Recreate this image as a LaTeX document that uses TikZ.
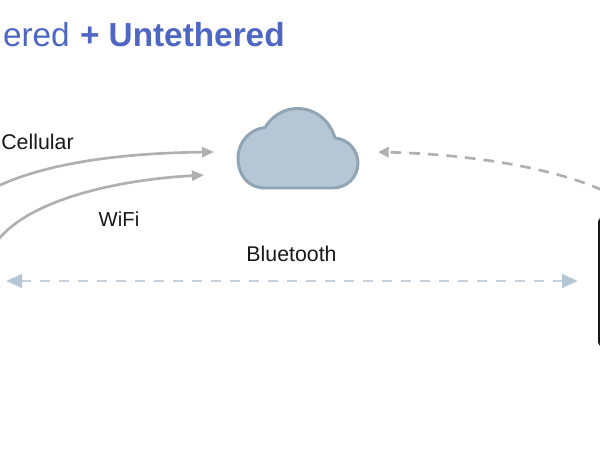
\documentclass[tikz,border=0pt]{standalone}
\usepackage{fontspec}
\setmainfont{Liberation Sans}
\usetikzlibrary{arrows.meta}
\definecolor{titleblue}{HTML}{4F67C4}
\definecolor{cloudfill}{HTML}{B5C6D4}
\definecolor{cloudedge}{HTML}{8FA5B6}
\definecolor{linkgrey}{HTML}{B0B0B0}
\definecolor{btdash}{HTML}{C6D1DB}
\definecolor{bthead}{HTML}{B5C6D4}
\tikzset{
  every node/.style={inner sep=0pt,outer sep=0pt},
  lbl/.style={font=\fontsize{16pt}{18pt}\selectfont,text=black!90},
  ttl/.style={font=\fontsize{25pt}{28pt}\selectfont,text=titleblue,anchor=base west},
  solidlink/.style={draw=linkgrey,line width=2pt,-{Triangle[length=9pt,width=7.5pt,color=linkgrey,fill=linkgrey]}},
  dashlink/.style={draw=linkgrey,line width=2pt,dash pattern=on 8pt off 6pt,-{Triangle[length=8pt,width=7.5pt,color=linkgrey,fill=linkgrey]}},
  btlink/.style={draw=btdash,line width=2.2pt,dash pattern=on 7pt off 7.25pt,{Triangle[length=12pt,width=10pt,color=bthead,fill=bthead]}-{Triangle[length=12pt,width=10pt,color=bthead,fill=bthead]}},
}
\begin{document}
\begin{tikzpicture}[x=0.75pt,y=-0.75pt]
\useasboundingbox (0,0) rectangle (600,468);
\fill[white] (0,0) rectangle (600,468);
\node[ttl] (t1) at (3,46.5) {ered};
\node[ttl,font=\fontsize{25pt}{28pt}\selectfont\bfseries] (t2) at (80,46.5) {+ Untethered};
\node[lbl] (cell) at (37.5,142) {Cellular};
\node[lbl,font=\fontsize{15.2pt}{18pt}\selectfont] (wifi) at (119,219) {WiFi};
\node[lbl] (bt) at (291.5,254) {Bluetooth};
% cloud
\draw[fill=cloudfill,draw=cloudedge,line width=2.2pt,line join=round]
  (265,188) .. controls (248,188) and (238,175) .. (238,158)
  .. controls (238,142) and (250,129) .. (265,127.5)
  .. controls (272,116) and (284,108.5) .. (297,108.5)
  .. controls (316,108.5) and (330,121) .. (335,138)
  .. controls (348,139) and (358,150) .. (358,163)
  .. controls (358,177) and (347,188) .. (333,188) -- cycle;
\coordinate (cellS) at (-2,186);
\coordinate (cellE) at (214,152);
\coordinate (wifiS) at (-2,240);
\coordinate (wifiE) at (204,175);
\coordinate (upS) at (602,190);
\coordinate (upE) at (378,152);
\coordinate (btL) at (6,281);
\coordinate (btR) at (578,281);
\coordinate (devT) at (603,219);
\coordinate (devB) at (603,345);
\draw[solidlink] (cellS) .. controls (50,162) and (125,153) .. (cellE);
\draw[solidlink] (wifiS) .. controls (30,200) and (115,180) .. (wifiE);
\draw[dashlink] (upS) .. controls (545,165) and (460,154) .. (upE);
\draw[btlink] (btL) -- (btR);
\draw[black!90,line width=2pt,rounded corners=2pt] (devT) -- (599.5,219) -- (599.5,345) -- (devB);
\end{tikzpicture}
\end{document}
